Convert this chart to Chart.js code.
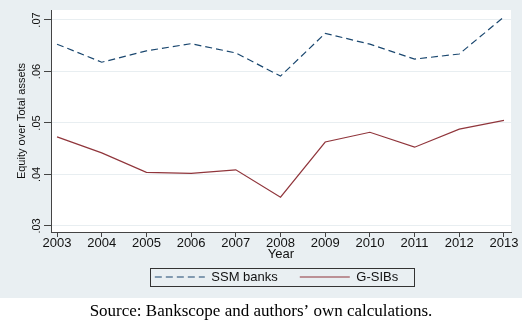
<!DOCTYPE html>
<html><head><meta charset="utf-8">
<script src="https://cdn.jsdelivr.net/npm/chart.js@4.4.0/dist/chart.umd.min.js"></script>
<style>html,body{margin:0;padding:0;background:#fff}canvas{display:block}</style>
</head><body>
<canvas id="c" width="525" height="331" style="width:525px;height:331px"></canvas>
<script>
const years = [2003, 2004, 2005, 2006, 2007, 2008, 2009, 2010, 2011, 2012, 2013];
const ssmBanks = [0.0653, 0.0618, 0.0640, 0.0654, 0.0636, 0.0591, 0.0674, 0.0653, 0.0624, 0.0634, 0.0706];
const gSibs = [0.0473, 0.0442, 0.0404, 0.0402, 0.0409, 0.0356, 0.0463, 0.0482, 0.0453, 0.0488, 0.0505];
const yTickValues = [0.03, 0.04, 0.05, 0.06, 0.07];
const yTickLabels = ['.03', '.04', '.05', '.06', '.07'];
const seriesNames = ['SSM banks', 'G-SIBs'];
const xTitle = 'Year';
const yTitle = 'Equity over Total assets';
const caption = 'Source: Bankscope and authors\u2019 own calculations.';

const SANS = "'Liberation Sans', Arial, sans-serif";
const SERIF = "'Liberation Serif', 'Times New Roman', serif";

const decor = {
  id: 'decor',
  beforeDraw(chart) {
    const ctx = chart.ctx, a = chart.chartArea;
    ctx.save();
    ctx.fillStyle = '#ffffff';
    ctx.fillRect(0, 0, chart.width, chart.height);
    ctx.fillStyle = '#e9eff2';
    ctx.fillRect(0, 0, 522, 298);
    ctx.fillStyle = '#ffffff';
    ctx.fillRect(a.left, a.top, a.right - a.left, a.bottom - a.top);
    ctx.restore();
  },
  afterLayout(chart) {
    const lg = chart.legend;
    if (lg) { lg.left = 42; lg.right = chart.chartArea.right; lg.top = 248.5; }
  },
  afterDraw(chart) {
    const ctx = chart.ctx;
    ctx.save();
    ctx.strokeStyle = '#333333';
    ctx.lineWidth = 1;
    ctx.strokeRect(150.5, 268.5, 264, 18);
    ctx.fillStyle = '#000000';
    ctx.font = '17px ' + SERIF;
    ctx.textAlign = 'center';
    ctx.textBaseline = 'middle';
    ctx.fillText(caption, 261, 312);
    ctx.restore();
  }
};

new Chart(document.getElementById('c'), {
  type: 'line',
  data: {
    datasets: [
      {
        label: seriesNames[0],
        data: years.map((y, i) => ({x: y, y: ssmBanks[i]})),
        borderColor: '#1a476f',
        backgroundColor: '#1a476f',
        borderWidth: 1.2,
        borderDash: [7, 4],
        pointRadius: 0,
        tension: 0,
        fill: false
      },
      {
        label: seriesNames[1],
        data: years.map((y, i) => ({x: y, y: gSibs[i]})),
        borderColor: '#90353b',
        backgroundColor: '#90353b',
        borderWidth: 1.2,
        pointRadius: 0,
        tension: 0,
        fill: false
      }
    ]
  },
  options: {
    responsive: false,
    devicePixelRatio: 1,
    animation: false,
    layout: {padding: {top: 10, right: 14, left: 0, bottom: 35}},
    plugins: {
      tooltip: {enabled: false},
      legend: {
        display: true,
        position: 'bottom',
        maxHeight: 36,
        labels: {
          usePointStyle: true,
          pointStyle: 'line',
          pointStyleWidth: 50,
          padding: 22,
          color: '#111111',
          font: {family: SANS, size: 13, lineHeight: 1},
          generateLabels(chart) {
            return chart.data.datasets.map((ds, i) => ({
              text: ds.label,
              datasetIndex: i,
              fillStyle: ds.borderColor,
              strokeStyle: ds.borderColor,
              lineWidth: 1.2,
              lineDash: ds.borderDash || [],
              pointStyle: 'line',
              hidden: false,
              fontColor: '#111111'
            }));
          }
        }
      }
    },
    scales: {
      x: {
        type: 'linear',
        min: 2002.865,
        max: 2013.157,
        afterFit(s) { s.height = 28; },
        afterBuildTicks(s) { s.ticks = years.map(v => ({value: v})); },
        grid: {drawOnChartArea: false, drawTicks: true, tickLength: 5, tickColor: '#444444'},
        border: {display: true, color: '#444444', width: 1},
        ticks: {
          autoSkip: false, maxRotation: 0, minRotation: 0, padding: 0,
          color: '#111111',
          font: {family: SANS, size: 13, lineHeight: 1},
          callback: v => String(v)
        },
        title: {display: true, text: xTitle, color: '#111111', padding: {top: 0, bottom: -0.5},
          font: {family: SANS, size: 13, lineHeight: 1}}
      },
      y: {
        type: 'linear',
        min: 0.02883,
        max: 0.07194,
        afterFit(s) { s.width = 51; },
        afterBuildTicks(s) { s.ticks = yTickValues.map(v => ({value: v})); },
        grid: {drawOnChartArea: true, color: '#e8eef1', lineWidth: 1, drawTicks: true, tickLength: 7, tickColor: '#444444'},
        border: {display: true, color: '#444444', width: 1},
        ticks: {
          minRotation: 90, maxRotation: 90, crossAlign: 'center', padding: -1,
          color: '#111111',
          font: {family: SANS, size: 11, lineHeight: 1},
          callback: (v) => { const i = yTickValues.findIndex(t => Math.abs(t - v) < 1e-9); return i >= 0 ? yTickLabels[i] : ''; }
        },
        title: {display: true, text: yTitle, color: '#111111', padding: {top: 16.5, bottom: 0},
          font: {family: SANS, size: 11, lineHeight: 1}}
      }
    }
  },
  plugins: [decor]
});
</script>
</body></html>
